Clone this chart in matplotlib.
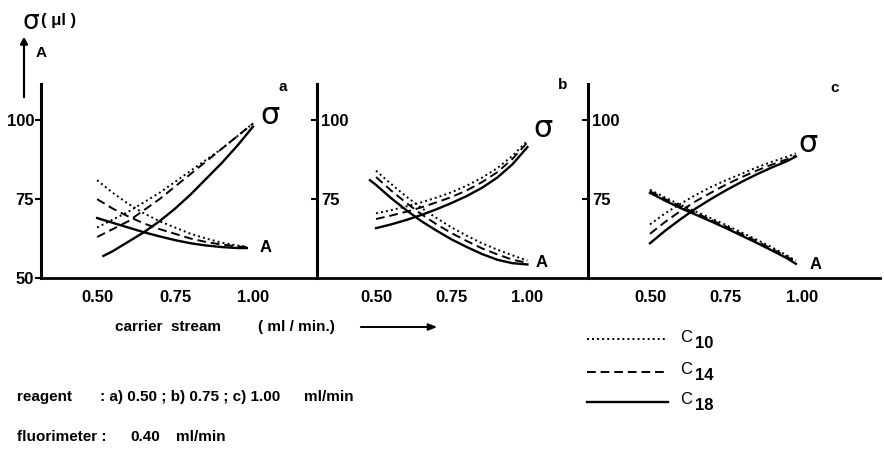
import matplotlib
matplotlib.use("Agg")
import matplotlib.pyplot as plt
from matplotlib.lines import Line2D
from matplotlib.patches import FancyArrowPatch

plt.rcParams['font.family'] = ['Liberation Sans', 'DejaVu Sans']
plt.rcParams['font.weight'] = 'bold'

# carrier stream flow (ml/min), read at 0.05 steps
x_std = [0.50, 0.55, 0.60, 0.65, 0.70, 0.75, 0.80, 0.85, 0.90, 0.95, 1.00]
x_short = [0.50, 0.55, 0.60, 0.65, 0.70, 0.75, 0.80, 0.85, 0.90, 0.95, 0.98]

# panel a (reagent 0.50 ml/min)
a_x_sig18 = [0.52, 0.55, 0.60, 0.65, 0.70, 0.75, 0.80, 0.85, 0.90, 0.95, 1.00]
a_sig10 = [66, 68.5, 71, 74, 77, 80.5, 84, 87.5, 91, 95, 99]
a_sig14 = [63, 65.5, 68, 71.5, 75, 79, 83, 87, 91, 95, 99]
a_sig18 = [57, 58.5, 61.5, 64.5, 68, 72, 76.5, 81.5, 86.5, 92, 98]
a_A10 = [81, 77, 73.5, 70.5, 68, 66, 64, 62.5, 61.2, 60.3, 60]
a_A14 = [75, 72, 69.5, 67.3, 65.5, 64, 62.5, 61.4, 60.6, 60, 59.8]
a_A18 = [69, 67.5, 66, 64.5, 63.2, 62, 61, 60.3, 59.8, 59.5, 59.5]

# panel b (reagent 0.75 ml/min)
b_sig10 = [70.5, 71.5, 72.7, 74, 75.5, 77.2, 79.3, 81.8, 84.8, 88.7, 93.5]
b_sig14 = [68.7, 69.8, 71, 72.4, 74, 75.7, 77.8, 80.4, 83.5, 87.7, 93]
b_sig18 = [65.8, 67, 68.4, 70, 71.8, 73.8, 76, 78.6, 81.8, 86, 91.5]
b_x_A18 = [0.48, 0.50, 0.55, 0.60, 0.65, 0.70, 0.75, 0.80, 0.85, 0.90, 0.95, 1.00]
b_A10 = [84, 79.8, 75.8, 72.2, 69, 66, 63.4, 61, 59, 57.2, 55.5]
b_A14 = [82, 77.7, 73.8, 70.2, 67, 64.2, 61.7, 59.4, 57.5, 55.8, 54.8]
b_A18 = [81, 79.5, 75.3, 71.5, 68, 65, 62.2, 59.8, 57.6, 55.8, 54.7, 54.3]

# panel c (reagent 1.00 ml/min)
c_sig10 = [67, 70.5, 73.5, 76.3, 78.8, 81, 83, 85, 86.8, 88.4, 89.5]
c_sig14 = [64, 67.8, 71.2, 74.3, 77, 79.6, 81.9, 84, 85.9, 87.6, 88.8]
c_sig18 = [61, 65, 68.6, 72, 75, 77.8, 80.4, 82.8, 85, 87, 88.5]
c_A10 = [78, 75.5, 73.2, 71.1, 69, 66.8, 64.5, 62.2, 59.8, 57.2, 55.5]
c_A14 = [77.5, 75, 72.7, 70.6, 68.5, 66.3, 64, 61.7, 59.3, 56.8, 55]
c_A18 = [77, 74.5, 72.2, 70.1, 68, 65.8, 63.5, 61.2, 58.8, 56.3, 54.5]

xticks = [0.50, 0.75, 1.00]
xticklabels = ['0.50', '0.75', '1.00']

W, H = 884, 451
fig = plt.figure(figsize=(W / 100, H / 100), dpi=100)


def fx(p):
    return p / W


def fy(p):
    return 1 - p / H


styles = {
    'C10': dict(color='black', lw=1.4, ls=(0, (1, 1.6))),
    'C14': dict(color='black', lw=1.4, ls=(0, (4.5, 2.5))),
    'C18': dict(color='black', lw=1.7, ls='-'),
}

panels = [
    dict(l=41, r=317, xlim=(0.32, 1.205), letter='a', lpos=(0.877, 0.985),
         spos=(1.022, 101.5), apos=(1.02, 59.6), yt=[50, 75, 100], inside=False,
         curves=[(x_std, a_sig10, 'C10'), (x_std, a_sig14, 'C14'), (a_x_sig18, a_sig18, 'C18'),
                 (x_short, a_A10, 'C10'), (x_short, a_A14, 'C14'), (x_short, a_A18, 'C18')]),
    dict(l=317, r=588, xlim=(0.305, 1.20), letter='b', lpos=(0.908, 0.995),
         spos=(1.02, 97.5), apos=(1.026, 54.8), yt=[75, 100], inside=True,
         curves=[(x_std, b_sig10, 'C10'), (x_std, b_sig14, 'C14'), (x_std, b_sig18, 'C18'),
                 (x_std, b_A10, 'C10'), (x_std, b_A14, 'C14'), (b_x_A18, b_A18, 'C18')]),
    dict(l=588, r=880, xlim=(0.296, 1.257), letter='c', lpos=(0.846, 0.98),
         spos=(0.99, 92.5), apos=(1.026, 54.2), yt=[75, 100], inside=True,
         curves=[(x_short, c_sig10, 'C10'), (x_short, c_sig14, 'C14'), (x_short, c_sig18, 'C18'),
                 (x_short, c_A10, 'C10'), (x_short, c_A14, 'C14'), (x_short, c_A18, 'C18')]),
]

top, bottom = 84, 278
for p in panels:
    ax = fig.add_axes([fx(p['l']), fy(bottom), fx(p['r'] - p['l']), (bottom - top) / H])
    for xs, ys, key in p['curves']:
        ax.plot(xs, ys, **styles[key])
    ax.set_xlim(*p['xlim'])
    ax.set_ylim(50, 111.5)
    for s in ['top', 'right']:
        ax.spines[s].set_visible(False)
    ax.spines['left'].set_linewidth(2.2)
    ax.spines['bottom'].set_linewidth(2.0)
    ax.set_xticks(xticks)
    ax.set_xticklabels(xticklabels, fontsize=12, fontweight='bold')
    ax.tick_params(axis='x', length=0, pad=9)
    ax.set_yticks(p['yt'])
    ax.set_yticklabels([str(v) for v in p['yt']], fontsize=12, fontweight='bold')
    if p['inside']:
        ax.tick_params(axis='y', direction='out', length=4, width=1.5, pad=-7)
        for t in ax.yaxis.get_major_ticks():
            t.label1.set_horizontalalignment('left')
    else:
        ax.tick_params(axis='y', direction='out', length=4, width=1.5, pad=1)
    ax.text(p['lpos'][0], p['lpos'][1], p['letter'], transform=ax.transAxes,
            fontsize=11, fontweight='bold', ha='center', va='center')
    ax.text(p['spos'][0], p['spos'][1], 'σ', fontsize=22, fontweight='normal',
            family='DejaVu Sans', ha='left', va='center')
    ax.text(p['apos'][0], p['apos'][1], 'A', fontsize=12, fontweight='bold',
            ha='left', va='center')

# y-axis title with arrow
fig.text(fx(23), fy(22), 'σ', fontsize=19, fontweight='normal', family='DejaVu Sans',
         ha='left', va='center')
fig.text(fx(41), fy(20), '( μl )', fontsize=12, fontweight='bold', ha='left', va='center')
fig.text(fx(36), fy(53), 'A', fontsize=11, fontweight='bold', ha='left', va='center')
fig.add_artist(FancyArrowPatch(
    (fx(24), fy(100)), (fx(24), fy(34)), transform=fig.transFigure,
    arrowstyle='-|>,head_length=4,head_width=2.2', lw=1.6, color='black'))

# x-axis title with arrow
fig.text(fx(115), fy(327), 'carrier  stream', fontsize=11, fontweight='bold',
         ha='left', va='center')
fig.text(fx(258), fy(327), '( ml / min.)', fontsize=11, fontweight='bold',
         ha='left', va='center')
fig.add_artist(FancyArrowPatch(
    (fx(358), fy(327)), (fx(440), fy(327)), transform=fig.transFigure,
    arrowstyle='-|>,head_length=5,head_width=2', lw=1.4, color='black'))

# legend
leg_y = {'C10': 339, 'C14': 372, 'C18': 402}
for key, y in leg_y.items():
    fig.add_artist(Line2D([fx(587), fx(668)], [fy(y), fy(y)], transform=fig.transFigure,
                          **styles[key]))
    fig.text(fx(680), fy(y - 2), 'C', fontsize=12, fontweight='normal', ha='left', va='center')
    fig.text(fx(695), fy(y + 4), key[1:], fontsize=12, fontweight='bold', ha='left', va='center')

# footnotes
fig.text(fx(17), fy(397), 'reagent', fontsize=11, fontweight='bold', ha='left', va='center')
fig.text(fx(100), fy(397), ': a) 0.50 ; b) 0.75 ; c) 1.00', fontsize=11, fontweight='bold',
         ha='left', va='center')
fig.text(fx(304), fy(397), 'ml/min', fontsize=11, fontweight='bold', ha='left', va='center')
fig.text(fx(17), fy(437), 'fluorimeter :', fontsize=11, fontweight='bold', ha='left', va='center')
fig.text(fx(130), fy(437), '0.40', fontsize=11, fontweight='bold', ha='left', va='center')
fig.text(fx(176), fy(437), 'ml/min', fontsize=11, fontweight='bold', ha='left', va='center')

fig.savefig('out.png', dpi=100)
